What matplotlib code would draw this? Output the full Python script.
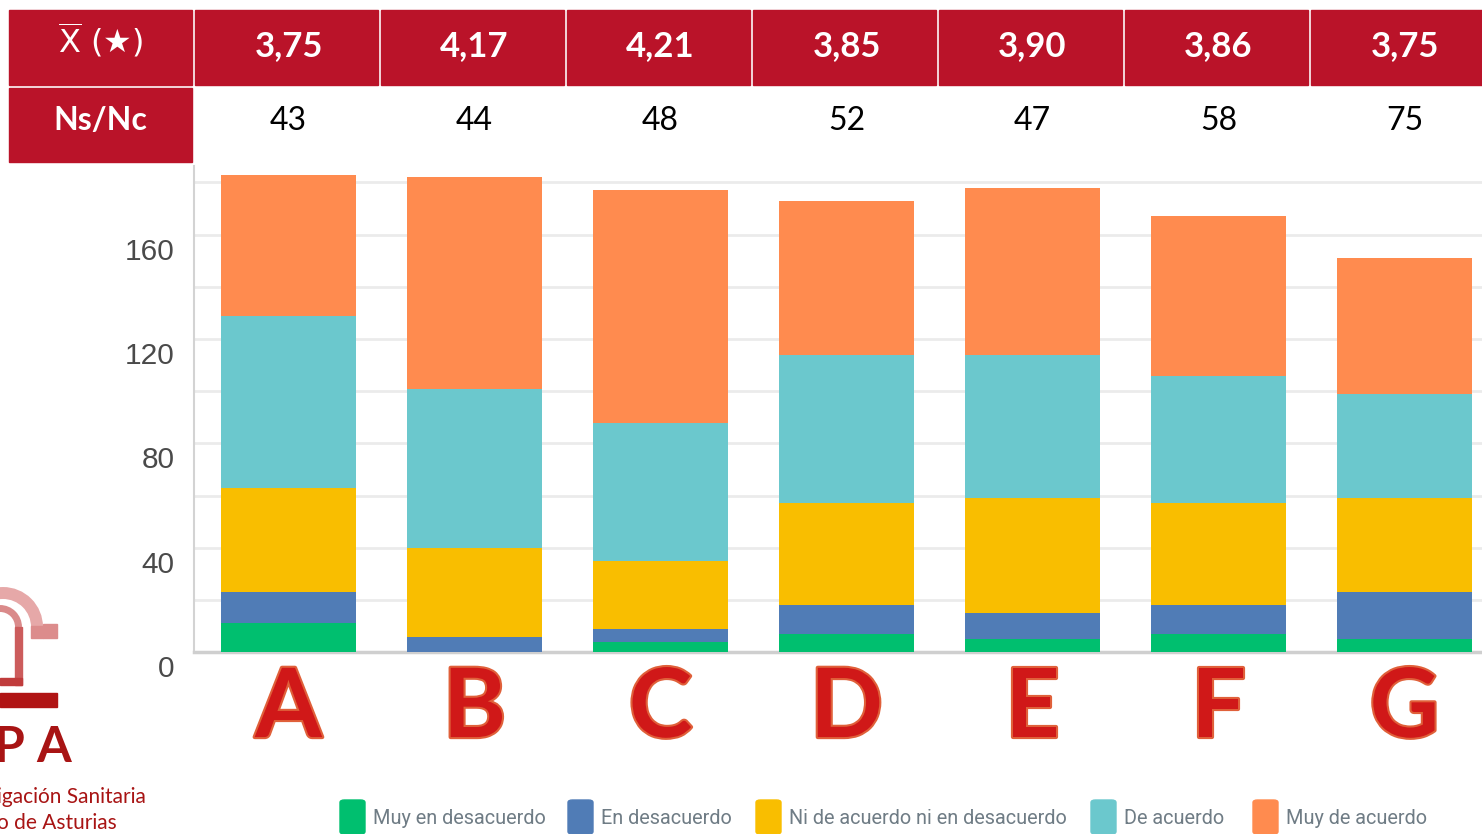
import matplotlib
matplotlib.use("Agg")
import matplotlib.pyplot as plt
import matplotlib.transforms as mtransforms
import matplotlib.patheffects as pe
from matplotlib.patches import Rectangle, FancyBboxPatch, Arc

W, H = 1482, 834

groups = ["A", "B", "C", "D", "E", "F", "G"]
means = ["3,75", "4,17", "4,21", "3,85", "3,90", "3,86", "3,75"]
ns_nc = [43, 44, 48, 52, 47, 58, 75]

labels = ["Muy en desacuerdo", "En desacuerdo", "Ni de acuerdo ni en desacuerdo",
          "De acuerdo", "Muy de acuerdo"]
colors = ["#00BF6F", "#507CB6", "#F9BE00", "#6BC8CD", "#FF8B4F"]
muy_desac = [11, 0, 4, 7, 5, 7, 5]
desac = [12, 6, 5, 11, 10, 11, 18]
neutral = [40, 34, 26, 39, 44, 39, 36]
acuerdo = [66, 61, 53, 57, 55, 49, 40]
muy_acuerdo = [54, 81, 89, 59, 64, 61, 52]
series = [muy_desac, desac, neutral, acuerdo, muy_acuerdo]

RED = "#BA1329"


def fx(x):
    return x / W


def fy(y):
    return 1 - y / H


fig = plt.figure(figsize=(W / 100, H / 100), dpi=100)
ax = fig.add_axes([fx(194), fy(652.2), 1396.5 / W, 486.2 / H])
ax.set_xlim(-0.508, 7.0)
ax.set_ylim(0, 186.3)

xs = list(range(len(groups)))
bottom = [0] * len(groups)
for vals, col in zip(series, colors):
    ax.bar(xs, vals, 0.726, bottom=bottom, color=col, zorder=3)
    bottom = [b + v for b, v in zip(bottom, vals)]

# grid and axes
ax.set_yticks(range(0, 181, 20))
ax.set_yticklabels([str(v) if v % 40 == 0 else "" for v in range(0, 181, 20)])
ax.grid(axis="y", color="#EBEBEB", linewidth=2, zorder=0)
ax.set_xticks([])
for s in ["top", "right"]:
    ax.spines[s].set_visible(False)
ax.spines["left"].set_color("#D3D3D3")
ax.spines["left"].set_linewidth(1.5)
ax.spines["bottom"].set_color("#CFCFCF")
ax.spines["bottom"].set_linewidth(2.5)
ax.tick_params(axis="y", length=0, pad=14, labelsize=21.5, labelcolor="#4A4A4A")
off = mtransforms.ScaledTranslation(0, -14 / 100, fig.dpi_scale_trans)
for lab in ax.get_yticklabels():
    lab.set_fontfamily("Liberation Sans")
    lab.set_transform(lab.get_transform() + off)

# group letters
for x, g in zip(xs, groups):
    ax.text(x, -0.118, g, transform=ax.get_xaxis_transform(), ha="center", va="center",
            fontsize=69, fontweight="bold", family="Lato", color="#D01818",
            path_effects=[pe.withStroke(linewidth=3, foreground="#E0603A")])

# header table
trans = mtransforms.blended_transform_factory(ax.transData, fig.transFigure)
row1 = (fy(85), fy(10))
row2 = (fy(162), fy(88))
for k in range(-1, len(groups)):
    ax.add_patch(Rectangle((k - 0.503, row1[0]), 0.984, row1[1] - row1[0],
                           transform=trans, color=RED, clip_on=False, zorder=5))
ax.add_patch(Rectangle((-1.503, row2[0]), 0.984, row2[1] - row2[0],
                       transform=trans, color=RED, clip_on=False, zorder=5))
ax.text(-1.01, fy(40), r"$\overline{\mathrm{X}}$ (★)", transform=trans, ha="center",
        va="center", fontsize=23, color="white", zorder=6)
ax.text(-1.01, fy(120), "Ns/Nc", transform=trans, ha="center", va="center",
        fontsize=23, fontweight="bold", family="Lato", color="white", zorder=6)
for x, m, n in zip(xs, means, ns_nc):
    ax.text(x, fy(46), m, transform=trans, ha="center", va="center", fontsize=25,
            fontweight="bold", family="Lato", color="white", zorder=6)
    ax.text(x, fy(121), str(n), transform=trans, ha="center", va="center", fontsize=23,
            family="Lato", color="black", zorder=6)

# legend
sw_x = [340, 568, 756, 1091, 1253]
for x0, lab, col in zip(sw_x, labels, colors):
    fig.add_artist(FancyBboxPatch((fx(x0), fy(834)), 25 / W, 34 / H,
                                  boxstyle="round,pad=0,rounding_size=0.003",
                                  transform=fig.transFigure, color=col))
    fig.text(fx(x0 + 33), fy(818), lab, ha="left", va="center", fontsize=14.3,
             family="Roboto", color="#6F7C85")

# logo fragment (cropped at the left edge, as in the source)
ft = fig.transFigure
fig.add_artist(Arc((fx(3), fy(627)), 68 / W, 68 / H, theta1=0, theta2=180,
                   transform=ft, color="#E6A8A8", linewidth=8.6))
fig.add_artist(Rectangle((fx(31), fy(638)), 12 / W, 12 / H, transform=ft, color="#DC8C8C"))
fig.add_artist(Rectangle((fx(43), fy(638)), 14 / W, 14 / H, transform=ft, color="#DC8C8C"))
fig.add_artist(Arc((fx(0), fy(627)), 37 / W, 37 / H, theta1=0, theta2=180,
                   transform=ft, color="#DA8A8A", linewidth=5))
fig.add_artist(Rectangle((fx(15), fy(685)), 7 / W, 58 / H, transform=ft, color="#CC5C5C"))
fig.add_artist(Rectangle((fx(0), fy(685)), 22 / W, 7 / H, transform=ft, color="#C03C3C"))
fig.add_artist(Rectangle((fx(0), fy(707)), 57 / W, 14 / H, transform=ft, color="#B01414"))
fig.text(fx(-6), fy(748), "P A", ha="left", va="center", fontsize=36, fontweight="bold",
         family="Lato", color="#A81414")
fig.text(fx(-3), fy(797), "igación Sanitaria", ha="left", va="center", fontsize=15,
         family="Lato", color="#A81414")
fig.text(fx(-3), fy(823), "o de Asturias", ha="left", va="center", fontsize=15,
         family="Lato", color="#A81414")

fig.savefig("out.png", dpi=100)
